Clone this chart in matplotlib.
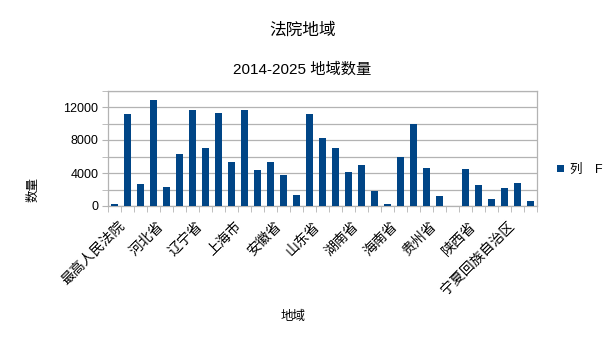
import numpy as np
import matplotlib
matplotlib.use("Agg")
import matplotlib.pyplot as plt
import matplotlib.transforms as mtransforms
from matplotlib.ticker import MultipleLocator, FixedLocator

plt.rcParams['font.family'] = ['Liberation Sans', 'Noto Sans CJK SC', 'DejaVu Sans']

# data
regions = ['最高人民法院', '北京市', '天津市', '河北省', '山西省', '内蒙古自治区',
           '辽宁省', '吉林省', '黑龙江省', '上海市', '江苏省', '浙江省',
           '安徽省', '福建省', '江西省', '山东省', '河南省', '湖北省',
           '湖南省', '广东省', '广西壮族自治区', '海南省', '重庆市', '四川省',
           '贵州省', '云南省', '西藏自治区', '陕西省', '甘肃省', '青海省',
           '宁夏回族自治区', '新疆维吾尔自治区', '新疆生产建设兵团']
counts = [280, 11100, 2680, 12850, 2310, 6360,
          11620, 7010, 11300, 5300, 11620, 4330,
          5300, 3770, 1380, 11210, 8220, 7050,
          4130, 4950, 1820, 200, 5950, 10000,
          4620, 1250, 0, 4450, 2510,
          850, 2150, 2800, 650]
series_name = '列\u3000F'
title = '法院地域'
subtitle = '2014-2025 地域数量'

bar_color = '#004586'
grid_color = '#b3b3b3'

fig = plt.figure(figsize=(6.05, 3.41), dpi=100)
ax = fig.add_axes([108 / 605, 1 - 206 / 341, 429 / 605, 115.5 / 341])

x = np.arange(len(regions))
ax.bar(x, counts, width=0.52, color=bar_color, label=series_name, zorder=3)

ax.set_xlim(-0.5, len(regions) - 0.5)
ax.set_ylim(0, 14000)

# y axis: labels every 4000, gridlines every 2000
ax.yaxis.set_major_locator(MultipleLocator(4000))
ax.yaxis.set_minor_locator(MultipleLocator(2000))
ax.grid(True, axis='y', which='both', color=grid_color, linewidth=0.9, zorder=0)
ax.tick_params(axis='y', which='both', length=4, color=grid_color, labelsize=9, pad=3)

# x axis: tick marks on category boundaries, label every 3rd category
ax.xaxis.set_minor_locator(FixedLocator(np.arange(-0.5, len(regions), 1)))
ax.set_xticks(x[::3])
ax.set_xticklabels(regions[::3], rotation=45, ha='right', va='top',
                   rotation_mode='anchor', fontsize=10)
ax.tick_params(axis='x', which='major', length=0, pad=7)
ax.tick_params(axis='x', which='minor', length=4, color=grid_color)
shift = mtransforms.ScaledTranslation(3 / 100, -3 / 100, fig.dpi_scale_trans)
for lab in ax.get_xticklabels():
    lab.set_transform(lab.get_transform() + shift)

for s in ax.spines.values():
    s.set_color(grid_color)
    s.set_linewidth(0.9)

ax.set_ylabel('数量', fontsize=9)
ax.yaxis.set_label_coords(-0.161, 0.147)
ax.set_xlabel('地域', fontsize=9)
ax.xaxis.set_label_coords(0.431, -0.911)

fig.text(0.5, 1 - 30 / 341, title, ha='center', va='center', fontsize=12)
fig.text(0.5, 1 - 70 / 341, subtitle, ha='center', va='center', fontsize=11)

fig.legend(loc='center left', bbox_to_anchor=(546 / 605, 1 - 170 / 341),
           frameon=False, handlelength=0.55, handleheight=0.55,
           handletextpad=0.5, fontsize=9)

fig.savefig('out.png', dpi=100)
